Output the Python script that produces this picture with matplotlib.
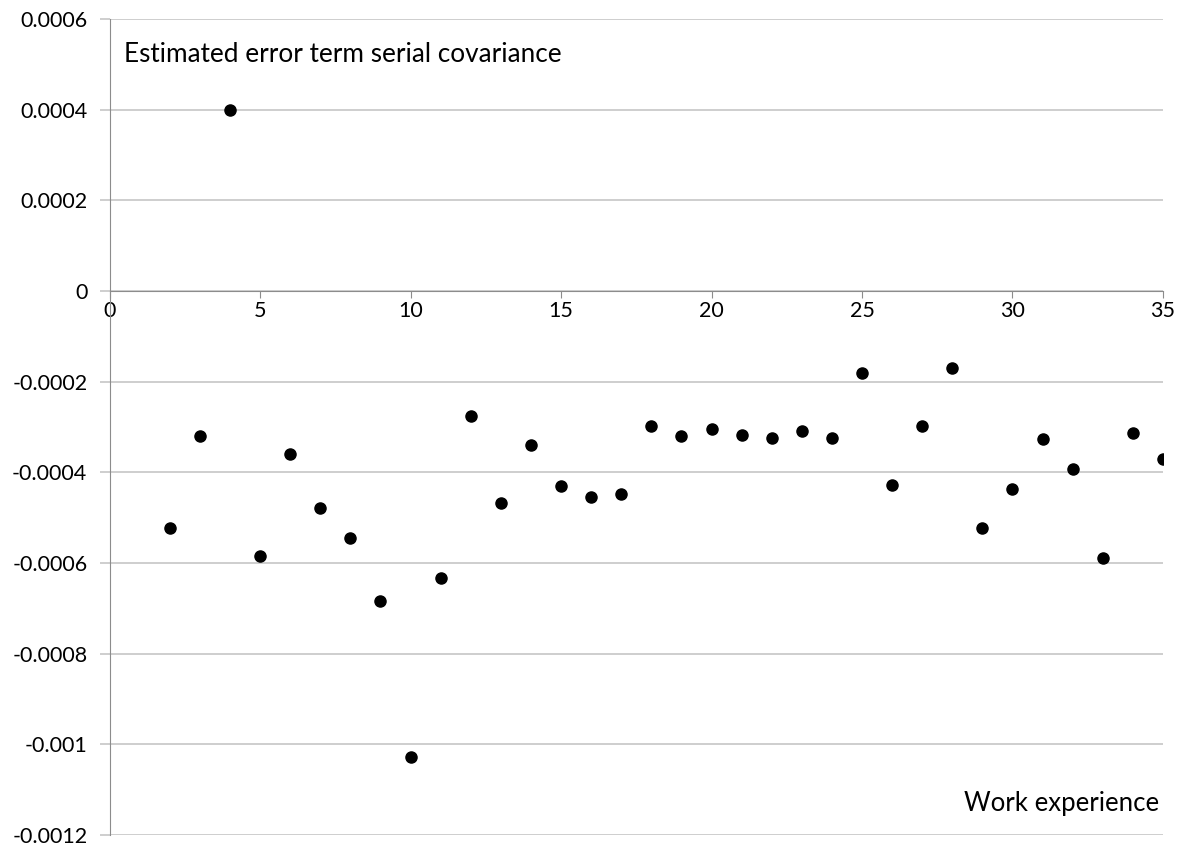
import matplotlib
matplotlib.use("Agg")
import matplotlib.pyplot as plt

# data
experience = [2, 3, 4, 5, 6, 7, 8, 9, 10, 11, 12, 13, 14, 15, 16, 17, 18, 19,
              20, 21, 22, 23, 24, 25, 26, 27, 28, 29, 30, 31, 32, 33, 34, 35]
covariance = [-0.000524, -0.000319, 0.000400, -0.000584, -0.000359, -0.000478,
              -0.000545, -0.000685, -0.001029, -0.000633, -0.000276, -0.000469,
              -0.000339, -0.000431, -0.000454, -0.000448, -0.000297, -0.000321,
              -0.000304, -0.000317, -0.000324, -0.000310, -0.000324, -0.000182,
              -0.000428, -0.000297, -0.000169, -0.000524, -0.000436, -0.000326,
              -0.000393, -0.000590, -0.000313, -0.000371]

xticks = [0, 5, 10, 15, 20, 25, 30, 35]
yticks = [0.0006, 0.0004, 0.0002, 0, -0.0002, -0.0004, -0.0006, -0.0008, -0.001, -0.0012]
ytick_labels = ["0.0006", "0.0004", "0.0002", "0", "-0.0002", "-0.0004",
                "-0.0006", "-0.0008", "-0.001", "-0.0012"]

plt.rcParams['font.family'] = ['Lato', 'DejaVu Sans']

W, H = 1183, 849
fig = plt.figure(figsize=(W / 100, H / 100), dpi=100)
left, right = 109.5 / W, 1163 / W
top, bottom = 1 - 19 / H, 1 - 834.8 / H
ax = fig.add_axes([left, bottom, right - left, top - bottom])

gridcol = '#c6c6c6'
axcol = '#8c8c8c'

ax.plot(experience, covariance, 'o', color='black', markersize=8, zorder=3)

ax.set_xlim(0, 35)
ax.set_ylim(-0.0012, 0.0006)
ax.set_xticks(xticks)
ax.set_yticks(yticks)
ax.set_yticklabels(ytick_labels)

ax.yaxis.grid(True, color=gridcol, linewidth=1.2)
ax.set_axisbelow(True)

for s in ['top', 'right']:
    ax.spines[s].set_visible(False)
ax.spines['left'].set_color(axcol)
ax.spines['bottom'].set_position(('data', 0))
ax.spines['bottom'].set_color(axcol)
ax.spines['bottom'].set_zorder(2)

ax.tick_params(axis='y', length=7, color=gridcol, width=1.2, pad=9,
               labelsize=15.5, labelcolor='black')
ax.tick_params(axis='x', direction='out', length=5, color=axcol, pad=2,
               labelsize=15.5, labelcolor='black')

fig.text(124 / W, 1 - 54 / H, "Estimated error term serial covariance",
         fontsize=18.8, va='center', ha='left')
fig.text(1159 / W, 1 - 804 / H, "Work experience",
         fontsize=18.5, va='center', ha='right')

fig.savefig("out.png", dpi=100)
